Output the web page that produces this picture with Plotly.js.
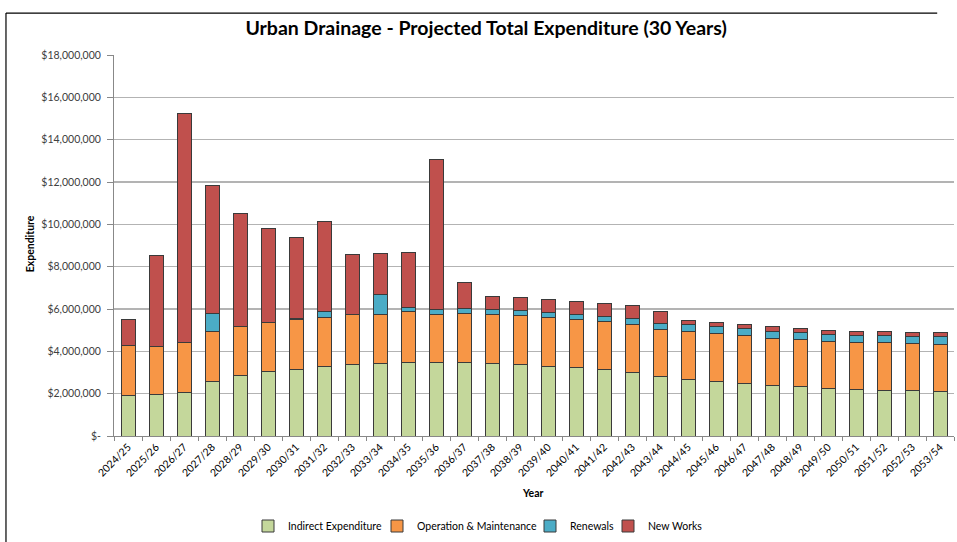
<!DOCTYPE html>
<html>
<head>
<meta charset="utf-8">
<script src="https://cdn.plot.ly/plotly-3.0.1.min.js"></script>
<style>html,body{margin:0;padding:0;background:#fff;}#chart{width:957px;height:542px;}</style>
</head>
<body>
<div id="chart"></div>
<script>
const years = ["2024/25","2025/26","2026/27","2027/28","2028/29","2029/30","2030/31","2031/32","2032/33","2033/34","2034/35","2035/36","2036/37","2037/38","2038/39","2039/40","2040/41","2041/42","2042/43","2043/44","2044/45","2045/46","2046/47","2047/48","2048/49","2049/50","2050/51","2051/52","2052/53","2053/54"];
const indirect = [1.92,1.95,2.07,2.59,2.84,3.05,3.16,3.27,3.39,3.42,3.49,3.47,3.49,3.44,3.39,3.30,3.24,3.13,3.02,2.81,2.67,2.59,2.48,2.40,2.32,2.25,2.18,2.15,2.15,2.12];
const operation = [2.34,2.28,2.34,2.33,2.34,2.32,2.34,2.35,2.33,2.33,2.37,2.29,2.31,2.29,2.28,2.29,2.26,2.26,2.26,2.23,2.26,2.23,2.25,2.23,2.24,2.23,2.25,2.25,2.22,2.22];
const renewals = [0,0,0,0.86,0,0,0.04,0.24,0,0.93,0.22,0.24,0.23,0.24,0.25,0.24,0.25,0.25,0.25,0.27,0.32,0.33,0.34,0.33,0.33,0.33,0.33,0.33,0.34,0.36];
const newWorks = [1.25,4.31,10.84,6.05,5.33,4.43,3.84,4.26,2.86,1.93,2.61,7.07,1.24,0.64,0.62,0.61,0.60,0.61,0.63,0.59,0.20,0.21,0.18,0.21,0.20,0.19,0.17,0.19,0.19,0.17];
const tickVals = [0,2,4,6,8,10,12,14,16,18];
const tickText = ["$-","$2,000,000","$4,000,000","$6,000,000","$8,000,000","$10,000,000","$12,000,000","$14,000,000","$16,000,000","$18,000,000"];

const M = 1e6;
const toDollars = a => a.map(v => v * M);
const line = {color:'#3a3a3a', width:1};
function bar(name, vals, color, leg){
  return {type:'bar', name:name, x:years, y:toDollars(vals), marker:{color:color, line:line}, legend:leg};
}
const data = [
  bar('Indirect Expenditure', indirect, '#c4d79b', 'legend'),
  bar('Operation & Maintenance', operation, '#f79646', 'legend2'),
  bar('Renewals', renewals, '#4bacc6', 'legend3'),
  bar('New Works', newWorks, '#c0504d', 'legend4')
];
const font = 'Lato, "Open Sans", sans-serif';
function leg(px){
  return {orientation:'h', x:(px-114)/840, xanchor:'left', y:-0.233, yanchor:'middle', font:{size:10.5, color:'#000'}, itemwidth:30, bgcolor:'rgba(0,0,0,0)', borderwidth:0};
}
const layout = {
  width:957, height:542,
  barmode:'stack', bargap:0.5,
  margin:{l:114, r:3, t:55, b:105},
  paper_bgcolor:'#fff', plot_bgcolor:'#fff',
  font:{family:font, color:'#404040', size:11},
  title:{text:'<b>Urban Drainage - Projected Total Expenditure (30 Years)</b>', x:0.508, xanchor:'center', y:0.948, yanchor:'middle', font:{family:font, size:19.5, color:'#000'}},
  showlegend:true,
  legend:leg(248), legend2:leg(377), legend3:leg(530), legend4:leg(608),
  xaxis:{type:'category', tickangle:-45, tickfont:{size:10.5, color:'#000'}, ticks:'outside', ticklen:4, tickcolor:'#888', showline:true, linecolor:'#888', linewidth:1, showgrid:false, tickson:'boundaries', automargin:false},
  yaxis:{range:[0,18*M], tickvals:tickVals.map(v=>v*M), ticktext:tickText, tickfont:{size:10.5, color:'#404040'}, ticks:'outside', ticklen:6, tickcolor:'#888', ticklabelstandoff:4, showline:true, linecolor:'#888', linewidth:1, showgrid:true, gridcolor:'#b3b3b3', gridwidth:1.5, zeroline:false, automargin:false},
  annotations:[
    {text:'<b>Year</b>', xref:'paper', yref:'paper', x:0.499, y:-0.149, xanchor:'center', yanchor:'middle', showarrow:false, font:{size:10.5, color:'#000'}},
    {text:'<b>Expenditure</b>', xref:'paper', yref:'paper', x:-0.1, y:0.503, xanchor:'center', yanchor:'middle', textangle:-90, showarrow:false, font:{size:10.5, color:'#000'}}
  ],
  shapes:[
    {type:'line', xref:'paper', yref:'paper', x0:-0.1286, x1:-0.1286, y0:1.11, y1:-0.3, line:{color:'#000', width:1.2}},
    {type:'line', xref:'paper', yref:'paper', x0:-0.1286, x1:0.98, y0:1.11, y1:1.11, line:{color:'#000', width:1.2}}
  ]
};
Plotly.newPlot('chart', data, layout, {displayModeBar:false, staticPlot:true});
</script>
</body>
</html>
